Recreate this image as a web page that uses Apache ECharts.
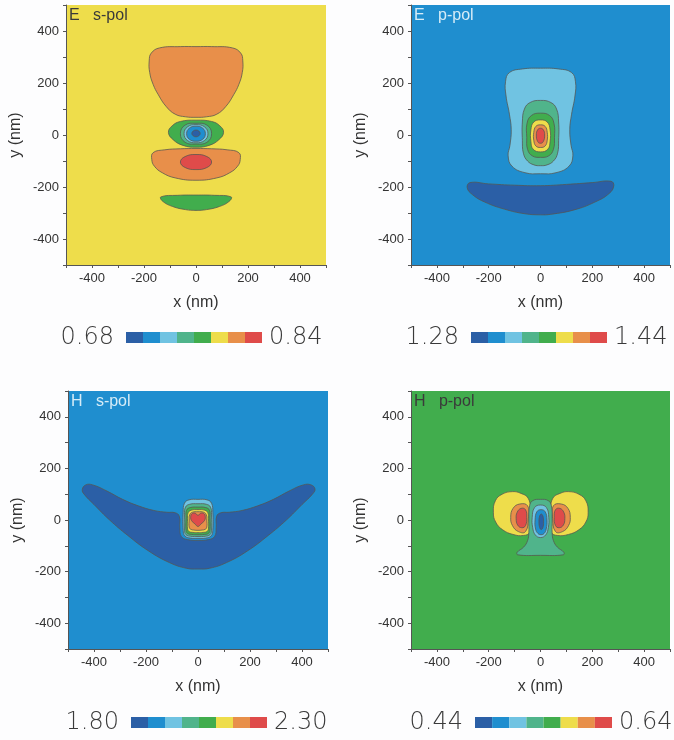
<!DOCTYPE html>
<html>
<head>
<meta charset="utf-8">
<script src="https://cdn.jsdelivr.net/npm/echarts/dist/echarts.min.js"></script>
<style>
html,body{margin:0;padding:0;background:#fdfdfe;}
#chart{width:674px;height:740px;}
</style>
</head>
<body>
<div id="chart"></div>
<script>
// ---------------- data ----------------
// axis ticks (nm)
const axisRange = [-500, 500];
const tickLabels = [-400, -200, 0, 200, 400];

// colour-bar limits of each panel
const esRange = ['0.68', '0.84'];
const epRange = ['1.28', '1.44'];
const hsRange = ['1.80', '2.30'];
const hpRange = ['0.44', '0.64'];
const barLevels = [0, 1, 2, 3, 4, 5, 6, 7];

// background level of each panel (index 0 = lowest level)
const esBackground = 5;
const epBackground = 1;
const hsBackground = 1;
const hpBackground = 4;

// contour regions: level index + outline points [x nm, y nm]
const esRegions = [
  {level: 6, pts: [[-140,335],[-60,340],[0,340],[60,340],[140,335],[172,315],[180,285],[178,240],[165,195],[145,155],[115,110],[80,80],[40,70],[0,68],[-40,70],[-80,80],[-115,110],[-145,155],[-165,195],[-178,240],[-180,285],[-172,315]]},
  {level: 4, pts: [[-106,10],[-92,35],[-60,52],[0,57],[60,52],[92,35],[106,10],[88,-18],[50,-40],[0,-47],[-50,-40],[-88,-18]]},
  {level: 3, pts: [[0,45],[42,38],[60,5],[42,-28],[0,-35],[-42,-28],[-60,5],[-42,38]]},
  {level: 2, pts: [[0,40],[33,31],[46,5],[33,-21],[0,-30],[-33,-21],[-46,5],[-33,31]]},
  {level: 1, pts: [[0,34],[26,26],[36,5],[26,-16],[0,-24],[-26,-16],[-36,5],[-26,26]]},
  {level: 0, pts: [[0,19],[11,15],[16,6],[11,-3],[0,-7],[-11,-3],[-16,6],[-11,15]]},
  {level: 6, pts: [[-165,-68],[-120,-57],[-60,-53],[0,-52],[60,-53],[120,-57],[165,-68],[170,-95],[160,-120],[130,-145],[80,-165],[0,-174],[-80,-165],[-130,-145],[-160,-120],[-170,-95]]},
  {level: 7, pts: [[0,-75],[42,-83],[60,-104],[42,-125],[0,-133],[-42,-125],[-60,-104],[-42,-83]]},
  {level: 4, pts: [[-135,-238],[-70,-232],[0,-231],[70,-232],[135,-238],[128,-255],[90,-275],[40,-287],[0,-290],[-40,-287],[-90,-275],[-128,-255]]}
];

const epRegions = [
  {level: 2, pts: [[0,257],[70,254],[120,240],[135,205],[133,150],[120,80],[113,20],[118,-40],[125,-80],[110,-120],[60,-145],[0,-149],[-60,-145],[-110,-120],[-125,-80],[-118,-40],[-113,20],[-120,80],[-133,150],[-135,205],[-120,240],[-70,254]]},
  {level: 3, pts: [[0,133],[40,125],[62,100],[70,50],[70,-20],[66,-70],[50,-100],[25,-115],[0,-118],[-25,-115],[-50,-100],[-66,-70],[-70,-20],[-70,50],[-62,100],[-40,125]]},
  {level: 4, pts: [[0,84],[35,75],[52,45],[54,-10],[50,-55],[32,-80],[0,-86],[-32,-80],[-50,-55],[-53,-10],[-52,45],[-35,75]]},
  {level: 5, pts: [[0,58],[26,50],[37,20],[37,-25],[28,-55],[0,-65],[-28,-55],[-37,-25],[-37,20],[-26,50]]},
  {level: 6, pts: [[0,39],[18,33],[26,10],[26,-20],[18,-42],[0,-48],[-18,-42],[-26,-20],[-26,10],[-18,33]]},
  {level: 7, pts: [[0,26],[11,20],[16,0],[11,-25],[0,-32],[-11,-25],[-16,0],[-11,20]]},
  {level: 0, pts: [[-272,-183],[-200,-188],[-100,-193],[0,-195],[100,-190],[200,-183],[272,-178],[283,-195],[265,-225],[210,-258],[130,-288],[40,-305],[0,-307],[-60,-303],[-140,-285],[-215,-258],[-262,-230],[-283,-203]]}
];

const hsRegions = [
  {level: 0, pts: [[-445,118],[-432,136],[-405,136],[-350,112],[-290,80],[-230,55],[-170,37],[-120,30],[-88,28],[-72,15],[-70,-30],[-64,-64],[-40,-76],[0,-79],[40,-76],[64,-64],[70,-30],[72,15],[88,28],[120,30],[170,37],[230,55],[290,80],[350,112],[405,136],[435,136],[450,120],[440,100],[400,60],[340,0],[270,-60],[190,-120],[110,-165],[45,-187],[0,-190],[-45,-187],[-110,-165],[-190,-120],[-270,-60],[-340,0],[-400,60],[-438,100]]},
  {level: 2, pts: [[0,80],[35,78],[52,65],[57,30],[57,-40],[50,-62],[30,-70],[0,-71],[-30,-70],[-50,-62],[-57,-40],[-57,30],[-52,65],[-35,78]]},
  {level: 3, pts: [[0,63],[32,61],[48,50],[52,20],[52,-40],[46,-57],[28,-63],[0,-64],[-28,-63],[-46,-57],[-52,-40],[-52,20],[-48,50],[-32,61]]},
  {level: 4, pts: [[0,50],[30,48],[44,38],[46,10],[46,-40],[40,-52],[25,-56],[0,-57],[-25,-56],[-40,-52],[-46,-40],[-46,10],[-44,38],[-30,48]]},
  {level: 5, pts: [[0,40],[26,38],[38,28],[40,5],[40,-35],[34,-45],[20,-48],[0,-49],[-20,-48],[-34,-45],[-40,-35],[-40,5],[-38,28],[-26,38]]},
  {level: 6, pts: [[0,32],[22,30],[32,20],[34,0],[34,-28],[28,-36],[16,-39],[0,-40],[-16,-39],[-28,-36],[-34,-28],[-34,0],[-32,20],[-22,30]]},
  {level: 7, pts: [[0,18],[10,26],[22,25],[28,14],[25,-2],[12,-15],[0,-25],[-12,-15],[-25,-2],[-28,14],[-22,25],[-10,26]]}
];

const hpRegions = [
  {level: 5, pts: [[-48,85],[-75,103],[-108,110],[-148,100],[-174,75],[-182,30],[-173,-8],[-146,-38],[-106,-56],[-66,-60],[-42,-48],[-38,0],[-38,40]]},
  {level: 5, pts: [[48,85],[75,103],[108,110],[148,100],[175,75],[184,30],[175,-8],[148,-38],[108,-56],[66,-60],[42,-48],[38,0],[38,40]]},
  {level: 6, pts: [[-50,55],[-80,62],[-106,45],[-115,10],[-108,-22],[-85,-45],[-58,-45],[-47,5]]},
  {level: 6, pts: [[50,55],[80,62],[106,45],[115,10],[108,-22],[85,-45],[58,-45],[47,5]]},
  {level: 7, pts: [[-58,40],[-75,45],[-90,30],[-94,5],[-88,-20],[-72,-30],[-58,-22],[-53,10]]},
  {level: 7, pts: [[58,40],[75,45],[90,30],[94,5],[88,-20],[72,-30],[58,-22],[53,10]]},
  {level: 3, pts: [[0,80],[30,75],[42,55],[45,0],[45,-50],[50,-80],[65,-105],[90,-125],[88,-135],[0,-137],[-88,-135],[-90,-125],[-65,-105],[-50,-80],[-45,-50],[-45,0],[-42,55],[-30,75]]},
  {level: 2, pts: [[0,58],[23,48],[32,10],[30,-30],[20,-58],[0,-68],[-20,-58],[-30,-30],[-32,10],[-23,48]]},
  {level: 1, pts: [[2,40],[18,32],[25,0],[22,-35],[14,-52],[2,-57],[-10,-52],[-19,-35],[-21,0],[-14,32]]},
  {level: 0, pts: [[3,23],[9,16],[12,-7],[9,-30],[3,-37],[-3,-30],[-6,-7],[-3,16]]}
];

// ---------------- styles ----------------
const levelColors = ['#2b5fa6', '#1f8ecf', '#70c3e2', '#50b48b', '#41ad4d', '#eedd4b', '#e88f4a', '#df4b4a'];
const lineColor = 'rgba(85,85,80,0.85)';
const axisColor = '#555';
const textColor = '#333';

const panels = [
  {name: 'E', pol: 's-pol', regions: esRegions, bg: esBackground, range: esRange, labelColor: '#3a3a3a',
   grid: {left: 66, top: 5, width: 260, height: 260}, bar: {left: 126, top: 332, width: 136, height: 11}},
  {name: 'E', pol: 'p-pol', regions: epRegions, bg: epBackground, range: epRange, labelColor: '#d6ecf7',
   grid: {left: 411, top: 5, width: 259, height: 260}, bar: {left: 471, top: 332, width: 136, height: 11}},
  {name: 'H', pol: 's-pol', regions: hsRegions, bg: hsBackground, range: hsRange, labelColor: '#d6ecf7',
   grid: {left: 68, top: 391, width: 260, height: 258}, bar: {left: 131, top: 717, width: 136, height: 11}},
  {name: 'H', pol: 'p-pol', regions: hpRegions, bg: hpBackground, range: hpRange, labelColor: '#3a3a3a',
   grid: {left: 411, top: 391, width: 259, height: 258}, bar: {left: 475, top: 717, width: 137, height: 11}}
];

const grids = [], xAxes = [], yAxes = [], series = [], graphics = [];
const tickFont = {fontFamily: "'Liberation Sans', Arial, sans-serif", fontSize: 13, color: textColor};
const barFont = {fontFamily: "'DejaVu Sans', sans-serif", fontWeight: 300, fontSize: 24, fill: '#3a3a3a'};

panels.forEach((p) => {
  const gi = grids.length;
  grids.push(Object.assign({show: true, backgroundColor: levelColors[p.bg], borderWidth: 0, containLabel: false}, p.grid));
  xAxes.push({
    gridIndex: gi, type: 'value', min: axisRange[0], max: axisRange[1], interval: 100,
    name: 'x (nm)', nameLocation: 'middle', nameGap: 30,
    nameTextStyle: {fontFamily: "'Liberation Sans', Arial, sans-serif", fontSize: 16, color: textColor},
    axisLine: {show: true, onZero: false, lineStyle: {color: axisColor, width: 1}},
    axisTick: {show: true, length: 3, inside: false, lineStyle: {color: axisColor}},
    axisLabel: Object.assign({margin: 7, formatter: v => tickLabels.includes(v) ? String(v) : ''}, tickFont),
    splitLine: {show: false}
  });
  yAxes.push({
    gridIndex: gi, type: 'value', min: axisRange[0], max: axisRange[1], interval: 100,
    name: 'y (nm)', nameLocation: 'middle', nameGap: 42, nameRotate: 90,
    nameTextStyle: {fontFamily: "'Liberation Sans', Arial, sans-serif", fontSize: 16, color: textColor},
    axisLine: {show: true, onZero: false, lineStyle: {color: axisColor, width: 1}},
    axisTick: {show: true, length: 3, inside: false, lineStyle: {color: axisColor}},
    axisLabel: Object.assign({margin: 7, formatter: v => tickLabels.includes(v) ? String(v) : ''}, tickFont),
    splitLine: {show: false}
  });
  const regions = p.regions;
  series.push({
    type: 'custom', xAxisIndex: gi, yAxisIndex: gi, clip: true, silent: true,
    data: regions.map(r => [r.pts[0][0], r.pts[0][1], r.level]),
    renderItem: function (params, api) {
      const r = regions[params.dataIndex];
      const pts = r.pts.map(pt => api.coord(pt));
      return {
        type: 'polygon',
        shape: {points: pts, smooth: 0.45},
        style: {fill: levelColors[r.level], stroke: lineColor, lineWidth: 0.9}
      };
    }
  });
  // panel label
  graphics.push({
    type: 'text', left: p.grid.left + 3, top: p.grid.top + 3,
    style: {text: p.name + '   ' + p.pol, fill: p.labelColor, fontFamily: "'Liberation Sans', Arial, sans-serif", fontSize: 16}
  });
  // colour bar grid
  const bi = grids.length;
  grids.push(Object.assign({show: false}, p.bar));
  xAxes.push({gridIndex: bi, type: 'value', min: 0, max: barLevels.length, show: false});
  yAxes.push({gridIndex: bi, type: 'value', min: 0, max: 1, show: false});
  series.push({
    type: 'custom', xAxisIndex: bi, yAxisIndex: bi, silent: true,
    data: barLevels.map(l => [l, 1]),
    renderItem: function (params, api) {
      const l = api.value(0);
      const a = api.coord([l, 1]);
      const b = api.coord([l + 1, 0]);
      return {type: 'rect', shape: {x: a[0], y: a[1], width: b[0] - a[0], height: b[1] - a[1]},
              style: {fill: levelColors[barLevels[params.dataIndex]]}};
    }
  });
  const cy = p.bar.top + p.bar.height / 2;
  graphics.push({type: 'text', x: p.bar.left - 12, y: cy,
    style: Object.assign({text: p.range[0], align: 'right', verticalAlign: 'middle'}, barFont)});
  graphics.push({type: 'text', x: p.bar.left + p.bar.width + 7, y: cy,
    style: Object.assign({text: p.range[1], align: 'left', verticalAlign: 'middle'}, barFont)});
});

const chart = echarts.init(document.getElementById('chart'), null, {renderer: 'canvas'});
chart.setOption({
  backgroundColor: '#fdfdfe',
  animation: false,
  grid: grids,
  xAxis: xAxes,
  yAxis: yAxes,
  series: series,
  graphic: graphics
});
</script>
</body>
</html>
